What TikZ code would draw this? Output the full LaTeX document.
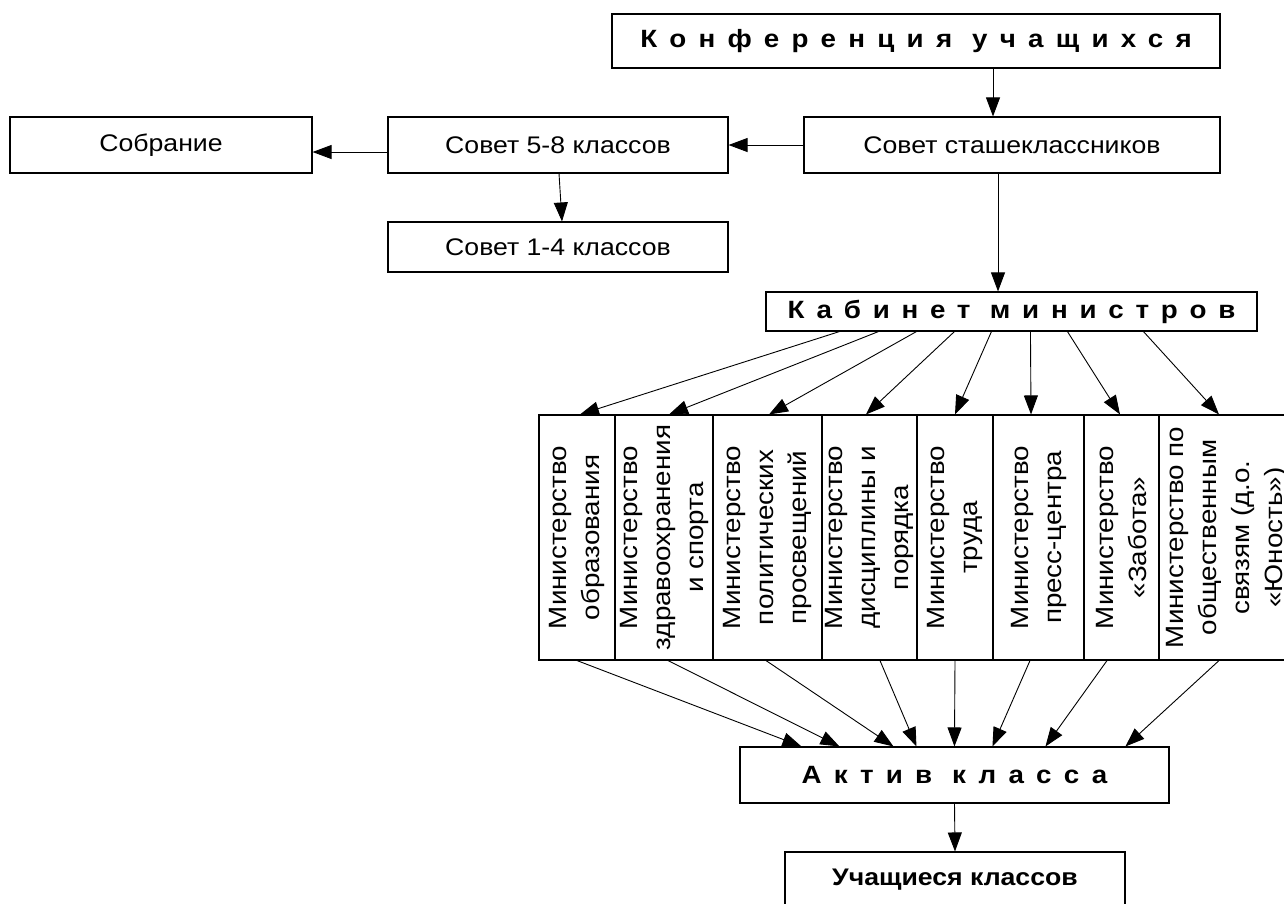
\documentclass[tikz,border=0pt]{standalone}
\usepackage{fontspec}
\setmainfont{Liberation Sans}[FakeStretch=1.11]
\usetikzlibrary{arrows.meta}
\newcommand{\sptitle}{\fontsize{25}{29}\selectfont\bfseries\addfontfeature{LetterSpace=49}}
\newcommand{\sptitlek}{\fontsize{25}{29}\selectfont\bfseries\addfontfeature{LetterSpace=47}}
\newcommand{\plaintext}{\fontsize{24}{29}\selectfont}
\newcommand{\mintext}{\fontsize{25}{33}\selectfont}
\begin{document}
\begin{tikzpicture}[x=1pt,y=-1pt,
  box/.style={draw=black, line width=1.1pt, inner sep=0pt},
  mtext/.style={font=\mintext, align=center, inner sep=0pt, rotate=90},
  conn/.style={draw=black, line width=0.9pt, -{Triangle[length=19pt,width=14pt]}}]
\useasboundingbox (0,0) rectangle (1284,903);

% top part
\node[box, minimum width=608pt, minimum height=54pt, font=\sptitle] (konf) at (916,41) {Конференция учащихся};
\node[box, minimum width=416pt, minimum height=56pt, font=\plaintext] (stash) at (1012,145) {Совет сташеклассников};
\node[box, minimum width=340pt, minimum height=56pt, font=\plaintext] (s58) at (558,145) {Совет 5-8 классов};
\node[box, minimum width=302pt, minimum height=56pt, font=\plaintext] (sobr) at (161,145) {Собрание};
\node[box, minimum width=340pt, minimum height=50pt, font=\plaintext] (s14) at (558,247) {Совет 1-4 классов};
\node[box, minimum width=491pt, minimum height=39pt, font=\sptitlek] (kab) at (1011.5,311.5) {Кабинет министров};

% ministries
\node[box, minimum width=76pt, minimum height=245pt] (m1) at (577,537.5) {};
\node[box, minimum width=98pt, minimum height=245pt] (m2) at (664,537.5) {};
\node[box, minimum width=109pt, minimum height=245pt] (m3) at (767.5,537.5) {};
\node[box, minimum width=95pt, minimum height=245pt] (m4) at (869.5,537.5) {};
\node[box, minimum width=76pt, minimum height=245pt] (m5) at (955,537.5) {};
\node[box, minimum width=91pt, minimum height=245pt] (m6) at (1038.5,537.5) {};
\node[box, minimum width=75pt, minimum height=245pt] (m7) at (1121.5,537.5) {};
\node[box, minimum width=136pt, minimum height=245pt] (m8) at (1227,537.5) {};

\node[mtext] (t1) at (m1.center) {Министерство\\образования};
\node[mtext] (t2) at (m2.center) {Министерство\\здравоохранения\\и спорта};
\node[mtext] (t3) at (m3.center) {Министерство\\политических\\просвещений};
\node[mtext] (t4) at (m4.center) {Министерство\\дисциплины и\\порядка};
\node[mtext] (t5) at (m5.center) {Министерство\\труда};
\node[mtext] (t6) at (m6.center) {Министерство\\пресс-центра};
\node[mtext] (t7) at (m7.center) {Министерство\\«Забота»};
\node[mtext] (t8) at (m8.center) {Министерство по\\общественным\\связям (д.о.\\«Юность»)};

% bottom part
\node[box, minimum width=429pt, minimum height=56pt, font=\sptitle] (akt) at (954.5,775) {Актив класса};
\node[box, minimum width=340pt, minimum height=56pt, font=\fontsize{24}{28}\selectfont\bfseries] (uch) at (955,880) {Учащиеся классов};

% connectors
\draw[conn] ([xshift=77pt]konf.south) -- ([xshift=-19pt]stash.north);
\draw[conn] (stash.west) -- (s58.east);
\draw[conn] ([yshift=-7pt]s58.west) -- ([yshift=-7pt]sobr.east);
\draw[conn] ([xshift=1pt]s58.south) -- ([xshift=4pt]s14.north);
\draw[conn] ([xshift=-14pt]stash.south) -- ([xshift=-13.5pt]kab.north);

\draw[conn] ([xshift=74pt]kab.south west) -- ([xshift=3pt]m1.north);
\draw[conn] ([xshift=113pt]kab.south west) -- ([xshift=5pt]m2.north);
\draw[conn] ([xshift=151pt]kab.south west) -- ([xshift=1.5pt]m3.north);
\draw[conn] ([xshift=189pt]kab.south west) -- ([xshift=-3.5pt]m4.north);
\draw[conn] ([xshift=226pt]kab.south west) -- (m5.north);
\draw[conn] ([xshift=265pt]kab.south west) -- ([xshift=-7.5pt]m6.north);
\draw[conn] ([xshift=302pt]kab.south west) -- ([xshift=-1.5pt]m7.north);
\draw[conn] ([xshift=378pt]kab.south west) -- ([xshift=-8pt]m8.north);

\draw[conn] (m1.south) -- ([xshift=62pt]akt.north west);
\draw[conn] ([xshift=4pt]m2.south) -- ([xshift=100pt]akt.north west);
\draw[conn] ([xshift=-1.5pt]m3.south) -- ([xshift=154pt]akt.north west);
\draw[conn] ([xshift=10.5pt]m4.south) -- ([xshift=177pt]akt.north west);
\draw[conn] (m5.south) -- ([xshift=215pt]akt.north west);
\draw[conn] ([xshift=-8.5pt]m6.south) -- ([xshift=253pt]akt.north west);
\draw[conn] ([xshift=-14.5pt]m7.south) -- ([xshift=306pt]akt.north west);
\draw[conn] ([xshift=-8pt]m8.south) -- ([xshift=386pt]akt.north west);

\draw[conn] (akt.south) -- (uch.north);
\end{tikzpicture}
\end{document}
